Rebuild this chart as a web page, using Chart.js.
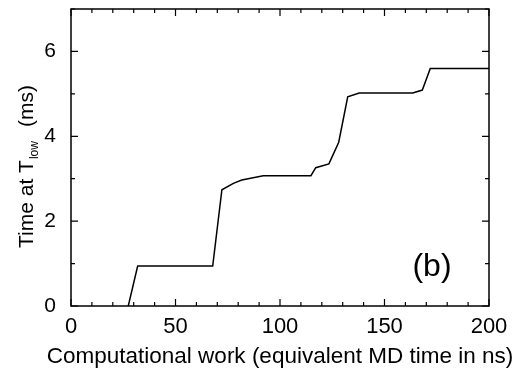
<!DOCTYPE html>
<html>
<head>
<meta charset="utf-8">
<script src="https://cdn.jsdelivr.net/npm/chart.js@4/dist/chart.umd.min.js"></script>
<style>
  html, body { margin: 0; padding: 0; background: #fff; }
</style>
</head>
<body>
<canvas id="chartCanvas" width="520" height="369"></canvas>
<script>
// values
var workNs = [27.4, 31.9, 67.8, 72.2, 77.7, 81.7, 92.0, 114.8, 117.1, 123.4, 128.1, 132.4, 137.9, 163.5, 168.1, 171.9, 200];
var timeMs = [0, 0.94, 0.94, 2.74, 2.89, 2.97, 3.07, 3.07, 3.26, 3.35, 3.86, 4.93, 5.02, 5.02, 5.09, 5.60, 5.60];
var xTickLabels = [0, 50, 100, 150, 200];
var yTickLabels = [0, 2, 4, 6];
var xTitle = "Computational work (equivalent MD time in ns)";
var yTitleParts = ["Time at T", "low", "(ms)"];
var panelLabel = "(b)";

var fontName = "'Liberation Sans', Arial, Helvetica, sans-serif";

var points = [];
for (var i = 0; i < workNs.length; i++) {
  points.push({ x: workNs[i], y: timeMs[i] });
}

// frame, inward ticks on all four sides, axis titles, panel label
var framePlugin = {
  id: "frame",
  afterDraw: function (chart) {
    var c = chart.ctx;
    var a = chart.chartArea;
    var xs = chart.scales.x;
    var ys = chart.scales.y;
    c.save();
    c.strokeStyle = "#000";
    c.lineWidth = 1.5;
    c.strokeRect(a.left, a.top, a.right - a.left, a.bottom - a.top);

    c.lineWidth = 1.2;
    c.beginPath();
    for (var v = 0; v <= 200; v += 10) {
      var px = xs.getPixelForValue(v);
      var len = v % 50 == 0 ? 7 : 4;
      c.moveTo(px, a.bottom); c.lineTo(px, a.bottom - len);
      c.moveTo(px, a.top); c.lineTo(px, a.top + len);
    }
    for (var w = 0; w <= 7; w += 1) {
      var py = ys.getPixelForValue(w);
      var l2 = w % 2 == 0 ? 7 : 4;
      c.moveTo(a.left, py); c.lineTo(a.left + l2, py);
      c.moveTo(a.right, py); c.lineTo(a.right - l2, py);
    }
    c.stroke();

    // x title (drawn here so it is not squeezed to the axis width)
    c.fillStyle = "#000";
    c.font = "22.5px " + fontName;
    c.textAlign = "center";
    c.textBaseline = "alphabetic";
    c.fillText(xTitle, (a.left + a.right) / 2, 363);

    // y title: Time at T_low (ms)
    c.translate(33, 248);
    c.rotate(-Math.PI / 2);
    c.textAlign = "left";
    c.font = "21px " + fontName;
    c.fillText(yTitleParts[0], 0, 0);
    var w1 = c.measureText(yTitleParts[0]).width;
    c.font = "12px " + fontName;
    c.fillText(yTitleParts[1], w1 + 1, 5);
    var w2 = c.measureText(yTitleParts[1]).width;
    c.font = "21px " + fontName;
    c.fillText(yTitleParts[2], w1 + 1 + w2 + 14, 0);
    c.restore();

    c.save();
    c.fillStyle = "#000";
    c.font = "32px " + fontName;
    c.textAlign = "center";
    c.textBaseline = "middle";
    c.fillText(panelLabel, a.left + 361, a.top + 258);
    c.restore();
  }
};

var ctx = document.getElementById("chartCanvas").getContext("2d");
var chart = new Chart(ctx, {
  type: "line",
  data: {
    datasets: [{
      data: points,
      borderColor: "#000",
      borderWidth: 1.5,
      pointRadius: 0,
      tension: 0,
      fill: false
    }]
  },
  options: {
    responsive: false,
    animation: false,
    layout: { padding: { top: 9, right: 31, left: 0, bottom: 0 } },
    plugins: { legend: { display: false }, tooltip: { enabled: false } },
    scales: {
      x: {
        type: "linear",
        min: 0,
        max: 200,
        afterBuildTicks: function (s) {
          s.ticks = xTickLabels.map(function (v) { return { value: v }; });
        },
        afterFit: function (s) {
          s.height = 63;
          s.paddingLeft = 0; s.paddingRight = 0;
        },
        grid: { display: false, drawTicks: false },
        border: { display: false },
        ticks: {
          color: "#000",
          padding: 8,
          maxRotation: 0,
          font: { family: fontName, size: 22 }
        }
      },
      y: {
        min: 0,
        max: 7,
        afterBuildTicks: function (s) {
          s.ticks = yTickLabels.map(function (v) { return { value: v }; });
        },
        afterFit: function (s) {
          s.width = 71;
          s.paddingTop = 0; s.paddingBottom = 0;
        },
        grid: { display: false, drawTicks: false },
        border: { display: false },
        ticks: {
          color: "#000",
          padding: 15,
          font: { family: fontName, size: 21 }
        }
      }
    }
  },
  plugins: [framePlugin]
});
</script>
</body>
</html>
